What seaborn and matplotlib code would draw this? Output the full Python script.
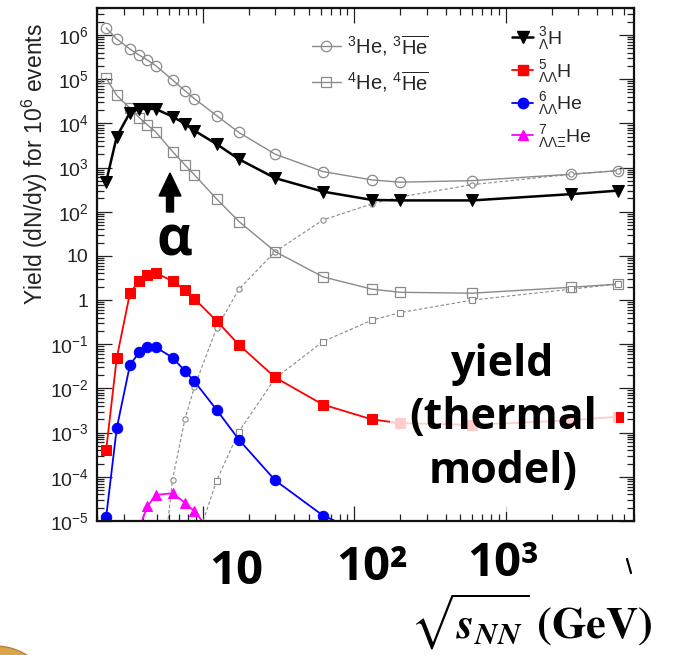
import numpy as np
import pandas as pd
import matplotlib
matplotlib.use("Agg")
import matplotlib.pyplot as plt
import matplotlib.transforms as mtransforms
from matplotlib.patches import FancyArrow, Ellipse
from matplotlib.lines import Line2D
from matplotlib.ticker import LogLocator, NullFormatter, FuncFormatter
import seaborn as sns

# ---- thermal-model yields per 10^6 central events vs sqrt(s_NN) [GeV] ----
energy_all = [2.3, 2.7, 3.3, 3.8, 4.3, 4.9, 6.3, 7.6, 8.8, 12.3, 17.3, 30, 62, 130, 200, 600, 2700, 5500]

he3 = [1.44e6, 8.1e5, 4.8e5, 3.5e5, 2.7e5, 2.0e5, 9.6e4, 5.5e4, 3.6e4, 1.5e4, 6.2e3, 2.0e3,
       810, 525, 465, 505, 705, 850]
he4 = [1.05e5, 4.3e4, 2.2e4, 1.35e4, 9.2e3, 6.3e3, 2.3e3, 1.15e3, 680, 195, 60, 12.5,
       3.35, 1.77, 1.5, 1.43, 1.95, 2.3]
hyp_h3 = [480, 5.0e3, 1.75e4, 2.1e4, 2.15e4, 2.1e4, 1.42e4, 9.8e3, 6.8e3, 3.4e3, 1.54e3, 575,
          285, 185, 180, 180, 250, 300]
hyp_h5 = [4.1e-4, 4.9e-2, 1.43, 2.77, 3.7, 4.07, 2.7, 1.7, 1.06, 0.34, 9.7e-2, 1.77e-2,
          4.3e-3, 2.0e-3, 1.64e-3, 1.5e-3, 1.9e-3, 2.3e-3]

energy_anti_he3 = [4.9, 6.3, 7.6, 8.8, 12.3, 17.3, 30, 62, 130, 200, 600, 2700, 5500]
anti_he3 = [3.5e-8, 8.5e-5, 2.0e-3, 1.1e-2, 0.23, 1.77, 12.5, 65, 150, 215, 410, 705, 850]

energy_anti_he4 = [8.8, 12.3, 17.3, 30, 62, 130, 200, 600, 2700, 5500]
anti_he4 = [2.6e-6, 8.1e-5, 1.06e-3, 1.7e-2, 0.115, 0.35, 0.52, 1.0, 1.77, 2.3]

energy_he6 = [2.3, 2.7, 3.3, 3.8, 4.3, 4.9, 6.3, 7.6, 8.8, 12.3, 17.3, 30, 62, 130]
hyp_he6 = [1.25e-5, 1.26e-3, 3.4e-2, 6.6e-2, 8.5e-2, 8.5e-2, 5.0e-2, 2.5e-2, 1.44e-2, 3.3e-3,
           6.9e-4, 8.3e-5, 1.33e-5, 4.3e-6]

energy_he7 = [3.8, 4.3, 4.9, 6.3, 7.6, 8.8, 12.3]
hyp_he7 = [6.8e-6, 2.15e-5, 3.9e-5, 4.25e-5, 2.6e-5, 1.65e-5, 4.0e-6]

x_overlay_labels = ["10", "10\u00b2", "10\u00b3"]

# ---- style ----
sns.set_style("ticks")
plt.rcParams["font.family"] = ["Liberation Sans", "DejaVu Sans"]
plt.rcParams["mathtext.fontset"] = "custom"
plt.rcParams["mathtext.rm"] = "Liberation Sans"
plt.rcParams["mathtext.it"] = "Liberation Sans:italic"
plt.rcParams["mathtext.bf"] = "Liberation Sans:bold"

W, H = 687, 655
fig = plt.figure(figsize=(W / 100, H / 100), dpi=100)
ax = fig.add_axes([97 / W, 1 - 521 / H, (634 - 97) / W, (521 - 8) / H])

GRAY = "#8a8a8a"


def draw(x, y, **kw):
    df = pd.DataFrame({"E": x, "Y": y})
    sns.lineplot(data=df, x="E", y="Y", ax=ax, estimator=None, sort=True, **kw)


draw(energy_all, he3, color=GRAY, lw=1.0, marker="o", markersize=7.5,
     markerfacecolor="none", markeredgecolor=GRAY, markeredgewidth=0.9)
draw(energy_anti_he3, anti_he3, color=GRAY, lw=0.8, linestyle=(0, (3, 2)), marker="o",
     markersize=3.8, markerfacecolor="white", markeredgecolor=GRAY, markeredgewidth=0.8)
draw(energy_all, he4, color=GRAY, lw=1.0, marker="s", markersize=7.5,
     markerfacecolor="none", markeredgecolor=GRAY, markeredgewidth=0.9)
draw(energy_anti_he4, anti_he4, color=GRAY, lw=0.8, linestyle=(0, (3, 2)), marker="s",
     markersize=3.8, markerfacecolor="white", markeredgecolor=GRAY, markeredgewidth=0.8)
draw(energy_all, hyp_h3, color="black", lw=1.8, marker="v", markersize=8,
     markeredgecolor="black", markerfacecolor="black")
draw(energy_all, hyp_h5, color="#ff0000", lw=1.3, marker="s", markersize=7,
     markeredgecolor="#ff0000", markerfacecolor="#ff0000")
draw(energy_he6, hyp_he6, color="#0000ff", lw=1.3, marker="o", markersize=7.5,
     markeredgecolor="#0000ff", markerfacecolor="#0000ff")
draw(energy_he7, hyp_he7, color="#ff00ff", lw=1.3, marker="^", markersize=7,
     markeredgecolor="#ff00ff", markerfacecolor="#ff00ff")

# ---- axes ----
ax.set_xscale("log")
ax.set_yscale("log")
ax.set_xlim(2, 7000)
ax.set_ylim(1e-5, 10 ** 6.61)
for axis in (ax.xaxis, ax.yaxis):
    axis.set_major_locator(LogLocator(base=10, numticks=30))
    axis.set_minor_locator(LogLocator(base=10, subs=np.arange(2, 10), numticks=30))
    axis.set_minor_formatter(NullFormatter())


def ylab(v, pos):
    e = int(round(np.log10(v)))
    if e == 0:
        return "1"
    if e == 1:
        return "10"
    return r"$10^{%d}$" % e


ax.yaxis.set_major_formatter(FuncFormatter(ylab))
ax.tick_params(axis="both", which="both", direction="in", top=True, right=True,
               colors="#222222", width=0.9)
ax.tick_params(axis="both", which="major", length=10.5, labelsize=14, pad=6)
ax.tick_params(axis="both", which="minor", length=5)
ax.tick_params(axis="x", labelbottom=False)
for s in ax.spines.values():
    s.set_linewidth(1.6)
    s.set_color("#111111")
ax.set_xlabel("")
ax.set_ylabel(r"Yield (dN/dy) for 10$^{6}$ events", fontsize=16.5, color="#222222")
ax.yaxis.set_label_coords(-0.088, 0.696)
ax.yaxis.label.set_va("bottom")

# ---- legends ----
h_he3 = Line2D([], [], color=GRAY, lw=1.0, marker="o", ms=7.5, mfc="none", mec=GRAY, mew=0.9)
h_he4 = Line2D([], [], color=GRAY, lw=1.0, marker="s", ms=7.5, mfc="none", mec=GRAY, mew=0.9)
leg1 = ax.legend([h_he3, h_he4],
                 [r"$^{3}$He, $^{3}\overline{\mathrm{He}}$", r"$^{4}$He, $^{4}\overline{\mathrm{He}}$"],
                 loc="upper left", bbox_to_anchor=(0.40, 0.952), frameon=False, fontsize=14.5,
                 handlelength=1.45, handletextpad=0.3, labelspacing=0.55, borderpad=0,
                 borderaxespad=0)
ax.add_artist(leg1)
h_h3 = Line2D([], [], color="black", lw=1.8, marker="v", ms=8, mfc="black", mec="black")
h_h5 = Line2D([], [], color="#ff0000", lw=1.3, marker="s", ms=7, mfc="#ff0000", mec="#ff0000")
h_he6 = Line2D([], [], color="#0000ff", lw=1.3, marker="o", ms=7.5, mfc="#0000ff", mec="#0000ff")
h_he7 = Line2D([], [], color="#ff00ff", lw=1.3, marker="^", ms=7, mfc="#ff00ff", mec="#ff00ff")
ax.legend([h_h3, h_h5, h_he6, h_he7],
          [r"${}^{3}_{\Lambda}\mathrm{H}$", r"${}^{5}_{\Lambda\Lambda}\mathrm{H}$",
           r"${}^{6}_{\Lambda\Lambda}\mathrm{He}$", r"${}^{7}_{\Lambda\Lambda\Xi}\mathrm{He}$"],
          loc="upper left", bbox_to_anchor=(0.773, 0.967), frameon=False, fontsize=14,
          handlelength=1.1, handletextpad=0.25, labelspacing=0.3, borderpad=0, borderaxespad=0)

# ---- annotations ----
BIG = ["Open Sans", "DejaVu Sans"]
fig.text(174 / W, 1 - 241 / H, "\u03b1", family=BIG, weight="bold", fontsize=40,
         ha="center", va="center", color="black")
fig.add_artist(FancyArrow(170, H - 212, 0, 39, width=7, head_width=22, head_length=23,
                          length_includes_head=True, color="black",
                          transform=mtransforms.IdentityTransform()))

fig.text(503 / W, 1 - 418 / H, "yield\n(thermal\nmodel)", family=BIG, weight="bold",
         fontsize=31, ha="center", va="center", linespacing=1.32, color="black",
         bbox=dict(boxstyle="square,pad=0.45", fc="white", ec="none", alpha=0.8))

for txt, xc, yc in zip(x_overlay_labels, [236, 372, 503], [571, 567, 564]):
    fig.text(xc / W, 1 - yc / H, txt, family=BIG, weight="bold", fontsize=34,
             ha="center", va="center", color="black")

fig.text(531 / W, 1 - 652 / H,
         r"$\sqrt{\mathbfit{s}_{\mathbfit{NN}}}\;\mathbf{(GeV)}$",
         math_fontfamily="stix", fontsize=32, ha="center", va="bottom", color="black")

fig.add_artist(Line2D([627 / W, 631 / W], [1 - 559 / H, 1 - 573 / H], color="black", lw=1.6))
fig.add_artist(Ellipse((-5 / W, 1 - 706 / H), 120 / W, 120 / H, fc="#d6a54e", ec="#b98331", lw=1))

fig.savefig("out.png", dpi=100)
